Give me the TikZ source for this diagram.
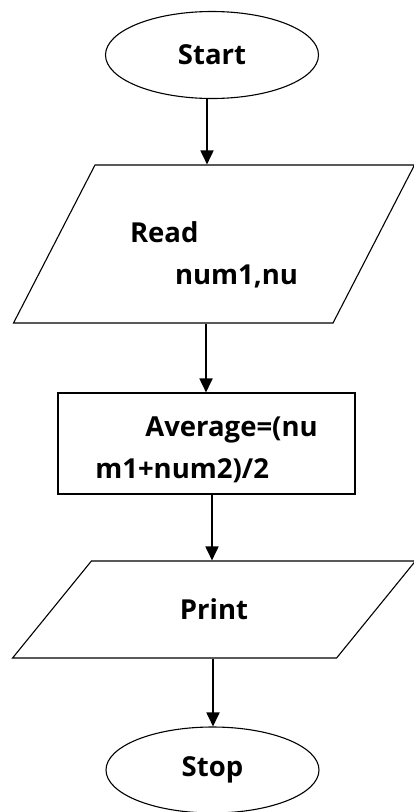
\documentclass[tikz,border=0pt]{standalone}
\usepackage{fontspec}
\setmainfont{Open Sans}
\usetikzlibrary{shapes.geometric,arrows.meta}
\tikzset{
  boxtext/.style={font=\bfseries\fontsize{27.5}{42}\selectfont},
  terminal/.style={draw,ellipse,line width=1.1pt,minimum width=213pt,minimum height=87pt,inner sep=0pt,boxtext},
  iobox/.style={draw,trapezium,trapezium stretches=true,line width=1.1pt,inner sep=0pt,boxtext,align=left},
  procbox/.style={draw,rectangle,line width=1.1pt,minimum width=297pt,minimum height=101pt,inner sep=0pt,boxtext,align=left},
  flow/.style={-{Triangle[length=14pt,width=13pt]},line width=1.8pt}
}
\begin{document}
\begin{tikzpicture}[x=1pt,y=1pt]
\useasboundingbox (0,0) rectangle (413,-812);
\node[terminal] (start) at (212,-55) {Start};
\node[iobox,trapezium left angle=57,trapezium right angle=123,minimum width=402pt,minimum height=158pt] (read) at (214,-244) {\rule{0pt}{43pt}Read\\\hspace*{45pt}num1,nu};
\node[procbox] (avg) at (206.5,-443.5) {\rule{0pt}{33pt}\hspace*{50pt}Average=(nu\\m1+num2)/2};
\node[iobox,trapezium left angle=44,trapezium right angle=136,minimum width=403pt,minimum height=97pt] (print) at (214,-609.5) {Print};
\node[terminal,minimum height=86pt] (stop) at (212.5,-770) {Stop};
\draw[flow] ([xshift=-5pt]start.south) -- ([xshift=-5pt]start.south |- read.north);
\draw[flow] ([xshift=-8pt]read.south) -- ([xshift=-8pt]read.south |- avg.north);
\draw[flow] ([xshift=5.5pt]avg.south) -- ([xshift=5.5pt]avg.south |- print.north);
\draw[flow] ([xshift=-1pt]print.south) -- ([xshift=-1pt]print.south |- stop.north);
\end{tikzpicture}
\end{document}
